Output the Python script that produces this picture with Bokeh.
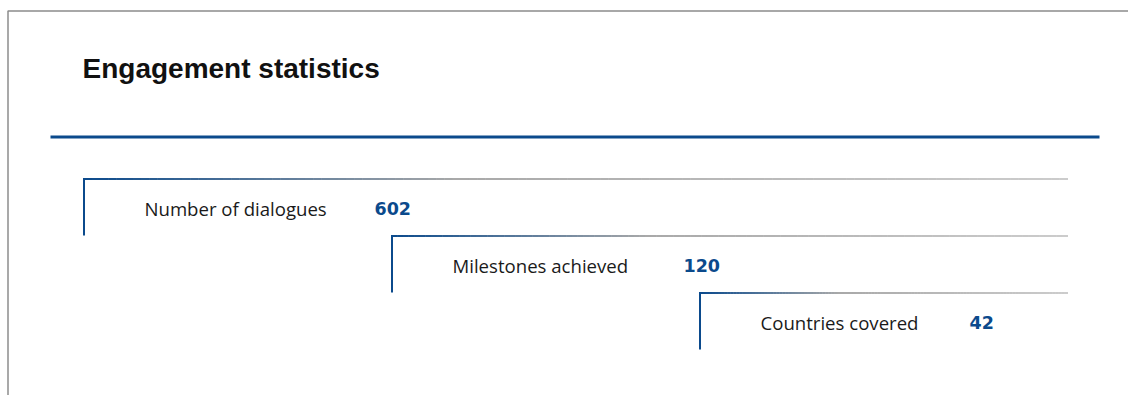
from bokeh.plotting import figure
from bokeh.models import Range1d, ColumnDataSource
from bokeh.core.properties import value
from bokeh.embed import file_html
from bokeh.resources import INLINE
import numpy as np

# ---- data ----
title = "Engagement statistics"
labels = ["Number of dialogues", "Milestones achieved", "Countries covered"]
values = [602, 120, 42]

# ---- layout (pixel-mapped figure) ----
W, H = 1128, 395
p = figure(width=W, height=H, x_range=Range1d(0, W), y_range=Range1d(H, 0),
           output_backend="svg", toolbar_location=None, min_border=0)
p.axis.visible = False
p.grid.visible = False
p.outline_line_color = None
p.background_fill_color = "white"

BLUE = "#0b4a8c"

# outer frame (top and left only visible)
p.line([7.5, 7.5, W + 5], [H + 5, 10.5, 10.5], line_color="#8c8c8c", line_width=1.5)

# title
p.text(x=[82], y=[68], text=[title], text_font=value("Liberation Sans"),
       text_font_size="28px", text_font_style="bold", text_color="#111111",
       text_baseline="alphabetic")

# blue divider
p.line([50, 1099], [136.5, 136.5], line_color=BLUE, line_width=3)

def hex2rgb(h):
    h = h.lstrip("#")
    return np.array([int(h[i:i + 2], 16) for i in (0, 2, 4)], dtype=float)

stops = [(0.0, hex2rgb(BLUE)), (0.38, hex2rgb("#a9a9a9")), (1.0, hex2rgb("#cccccc"))]

def grad_color(t):
    for (t0, c0), (t1, c1) in zip(stops[:-1], stops[1:]):
        if t <= t1:
            f = (t - t0) / (t1 - t0)
            c = c0 + (c1 - c0) * f
            return "#%02x%02x%02x" % tuple(int(round(v)) for v in c)
    return "#cccccc"

x_left0, x_step = 83, 308
y_top0, y_step = 178, 57
x_right = 1067
n = len(labels)
value_dx = [291, 292, 270]

vx = [x_left0 + i * x_step for i in range(n)]
vy = [y_top0 + i * y_step for i in range(n)]

# gradient horizontal lines
xs, ys, cs = [], [], []
for i in range(n):
    x0 = vx[i]
    seg = 120
    edges = np.linspace(x0, x_right, seg + 1)
    for k in range(seg):
        xs.append([edges[k], edges[k + 1] + 0.5])
        ys.append([vy[i] + 0.5, vy[i] + 0.5])
        cs.append(grad_color((k + 0.5) / seg))
p.multi_line(xs=xs, ys=ys, line_color=cs, line_width=2)

# vertical blue lines
p.segment(x0=[x + 0.5 for x in vx], y0=[y - 0.5 for y in vy],
          x1=[x + 0.5 for x in vx], y1=[y + y_step for y in vy],
          line_color=BLUE, line_width=2)

src = ColumnDataSource(dict(
    lx=[x + 61 for x in vx], vx=[x + d for x, d in zip(vx, value_dx)],
    y=[y + 30 for y in vy], lab=labels, val=[str(v) for v in values]))

p.text(x="lx", y="y", text="lab", source=src, text_font=value("Open Sans"),
       text_font_size="18.6px", text_color="#1a1a1a", text_baseline="alphabetic")
p.text(x="vx", y="y", text="val", source=src, text_font=value("DejaVu Sans"),
       text_font_size="17.5px", text_font_style="bold", text_color=BLUE,
       text_baseline="alphabetic")

open("out.html", "w").write(file_html(p, INLINE))
